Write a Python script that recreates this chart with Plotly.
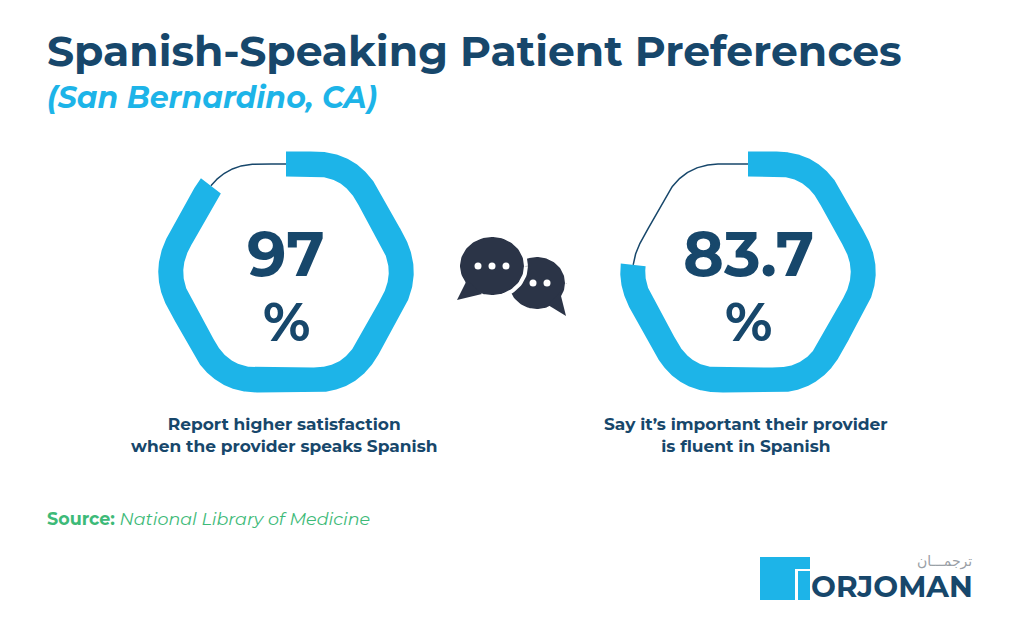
import numpy as np
import plotly.graph_objects as go

# ---- data ----
values = ["97", "83.7"]
arc_fraction = [0.885, 0.76]   # visible share of each hexagon ring
captions = ["Report higher satisfaction<br>when the provider speaks Spanish",
            "Say it’s important their provider<br>is fluent in Spanish"]
title = "Spanish-Speaking Patient Preferences"
subtitle = "(San Bernardino, CA)"
source_label = "Source:"
source_text = "National Library of Medicine"

NAVY = "#17476b"
CYAN = "#1db4e8"
DARK = "#2b3447"
GREEN = "#3dba78"
FONT = "Montserrat, Open Sans, sans-serif"

fig = go.Figure()

def rounded_hex(cx, cy, hw=124, tw=64, hh=108, r=36, n=24):
    V = [(cx + tw, cy - hh), (cx + hw, cy), (cx + tw, cy + hh),
         (cx - tw, cy + hh), (cx - hw, cy), (cx - tw, cy - hh)]
    pts = [(cx, cy - hh)]
    for i in range(6):
        p = np.array(V[i - 1] if i > 0 else (cx, cy - hh), float)
        q = np.array(V[(i + 1) % 6], float)
        v = np.array(V[i], float)
        a = v + (p - v) / np.linalg.norm(p - v) * r
        b = v + (q - v) / np.linalg.norm(q - v) * r
        for t in np.linspace(0, 1, n):
            pts.append(tuple((1 - t) ** 2 * a + 2 * (1 - t) * t * v + t ** 2 * b))
    pts.append((cx, cy - hh))
    P = np.array(pts)
    d = np.r_[0, np.cumsum(np.hypot(*np.diff(P, axis=0).T))]
    return P, d / d[-1]

def resample(P, s, f0, f1, n=400):
    f = np.linspace(f0, f1, n)
    return np.c_[np.interp(f, s, P[:, 0]), np.interp(f, s, P[:, 1])]

def band(C, w):
    T = np.gradient(C, axis=0)
    T /= np.linalg.norm(T, axis=1)[:, None]
    N = np.c_[-T[:, 1], T[:, 0]]
    A = C + N * w / 2
    B = C - N * w / 2
    return np.r_[A, B[::-1], A[:1]]

centers = [(286, 272), (748, 272)]
for (cx, cy), val, frac, cap in zip(centers, values, arc_fraction, captions):
    P, s = rounded_hex(cx, cy)
    gap = resample(P, s, frac, 1.0, 200)
    fig.add_trace(go.Scatter(x=gap[:, 0], y=gap[:, 1], mode="lines",
                             line=dict(color=NAVY, width=1.5), hoverinfo="skip"))
    seg = resample(P, s, 0, frac, 800)
    R = band(seg, 25)
    fig.add_trace(go.Scatter(x=R[:, 0], y=R[:, 1], mode="lines", fill="toself",
                             fillcolor=CYAN, line=dict(width=0), hoverinfo="skip"))
    fig.add_annotation(x=cx, y=cy - 18, text=f"<b>{val}</b>", showarrow=False,
                       font=dict(family=FONT, size=62, color=NAVY))
    fig.add_annotation(x=cx, y=cy + 50, text="<b>%</b>", showarrow=False,
                       font=dict(family=FONT, size=54, color=NAVY))
    fig.add_annotation(x=cx - 2, y=435, text=f"<b>{cap}</b>", showarrow=False,
                       font=dict(family=FONT, size=17, color=NAVY), align="center")

t = np.linspace(0, 2 * np.pi, 100)
# back bubble (right)
fig.add_trace(go.Scatter(x=537 + 30 * np.cos(t), y=283 + 28 * np.sin(t),
                         fill="toself", fillcolor=DARK, line=dict(color="white", width=4),
                         mode="lines", hoverinfo="skip"))
fig.add_trace(go.Scatter(x=[548, 566, 560, 548], y=[305, 316, 292, 305], fill="toself",
                         fillcolor=DARK, line=dict(width=0), mode="lines", hoverinfo="skip"))
# front bubble (left)
fig.add_trace(go.Scatter(x=492 + 34 * np.cos(t), y=266 + 31 * np.sin(t),
                         fill="toself", fillcolor=DARK, line=dict(color="white", width=4),
                         mode="lines", hoverinfo="skip"))
fig.add_trace(go.Scatter(x=[467, 457, 482, 467], y=[280, 300, 294, 280], fill="toself",
                         fillcolor=DARK, line=dict(width=0), mode="lines", hoverinfo="skip"))
fig.add_trace(go.Scatter(x=[478, 492, 506, 533, 547], y=[266, 266, 266, 283, 283],
                         mode="markers", marker=dict(color="white", size=7), hoverinfo="skip"))

# titles
fig.add_annotation(x=45, y=51, xanchor="left", text=f"<b>{title}</b>", showarrow=False,
                   font=dict(family=FONT, size=42.5, color=NAVY))
fig.add_annotation(x=45, y=97, xanchor="left", text=f"<b><i>{subtitle}</i></b>", showarrow=False,
                   font=dict(family=FONT, size=30, color=CYAN))
fig.add_annotation(x=45, y=518, xanchor="left",
                   text=f"<b>{source_label}</b> <i>{source_text}</i>", showarrow=False,
                   font=dict(family=FONT, size=17.5, color=GREEN))

# logo
fig.add_shape(type="rect", x0=760, x1=795, y0=557, y1=600, fillcolor=CYAN, line_width=0)
fig.add_shape(type="rect", x0=760, x1=810, y0=557, y1=569, fillcolor=CYAN, line_width=0)
fig.add_shape(type="rect", x0=798, x1=810, y0=571, y1=600, fillcolor=CYAN, line_width=0)
fig.add_trace(go.Scatter(x=[767, 775, 783], y=[593, 593, 593], mode="markers",
                         marker=dict(color="white", size=6), hoverinfo="skip"))
fig.add_annotation(x=809, y=586, xanchor="left", text="<b>ORJOMAN</b>", showarrow=False,
                   font=dict(family=FONT, size=29.5, color=NAVY))
fig.add_annotation(x=974, y=561, xanchor="right", text="ترجمـــان", showarrow=False,
                   font=dict(family="DejaVu Sans", size=14, color="#9aa0a6"))

# page body has an 8px margin: shift the ranges so picture coordinates line up
fig.update_xaxes(range=[8, 1032], visible=False, fixedrange=True)
fig.update_yaxes(range=[641, 8], visible=False, fixedrange=True)
fig.update_layout(width=1024, height=633, margin=dict(l=0, r=0, t=0, b=0),
                  plot_bgcolor="white", paper_bgcolor="white", showlegend=False)
fig.write_html("out.html", config={"displayModeBar": False})
